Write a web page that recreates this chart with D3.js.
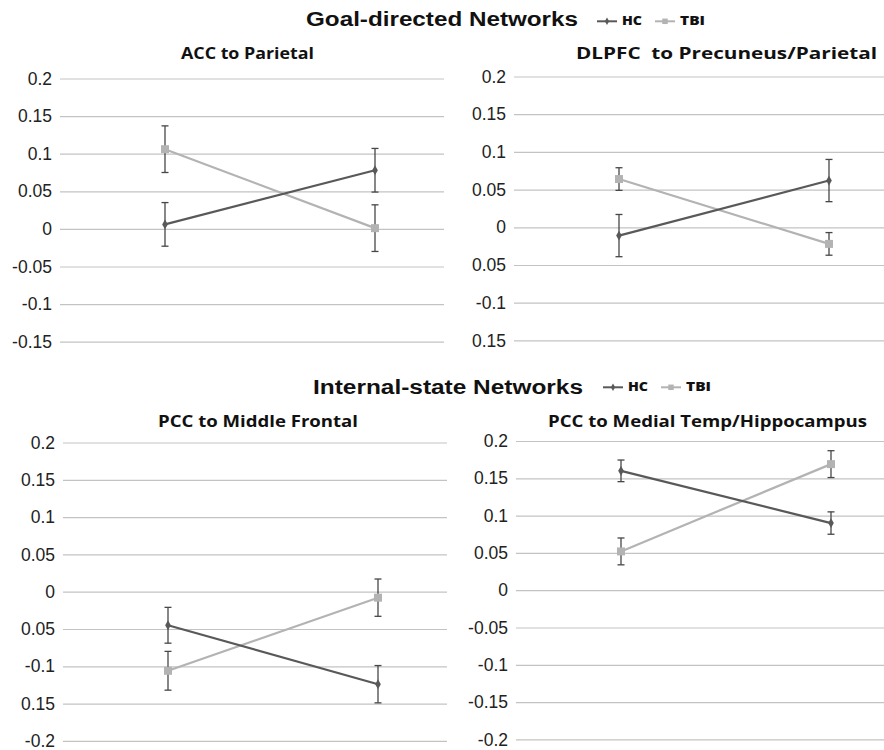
<!DOCTYPE html>
<html>
<head>
<meta charset="utf-8">
<script src="https://cdn.jsdelivr.net/npm/d3@7"></script>
<style>
  body { margin: 0; background: #fff; }
  svg { display: block; }
  .tick text { font-family: "Liberation Sans", Arial, sans-serif; font-size: 17.5px; fill: #222; }
</style>
</head>
<body>
<script>
// Values (two time points per group)
const timepoints = ["1", "2"];
const groups = ["HC", "TBI"];

const accHC = [0.006, 0.078];
const accHCErr = [0.029, 0.029];
const accTBI = [0.106, 0.001];
const accTBIErr = [0.031, 0.031];

const dlpfcHC = [-0.011, 0.062];
const dlpfcHCErr = [0.028, 0.028];
const dlpfcTBI = [0.064, -0.022];
const dlpfcTBIErr = [0.015, 0.015];

const mfHC = [-0.045, -0.124];
const mfHCErr = [0.024, 0.025];
const mfTBI = [-0.106, -0.008];
const mfTBIErr = [0.026, 0.025];

const mtHC = [0.160, 0.090];
const mtHCErr = [0.0145, 0.015];
const mtTBI = [0.052, 0.169];
const mtTBIErr = [0.018, 0.018];

const sectionTitles = ["Goal-directed Networks", "Internal-state Networks"];
const panelTitles = ["ACC to Parietal", "DLPFC  to Precuneus/Parietal", "PCC to Middle Frontal", "PCC to Medial Temp/Hippocampus"];

const tickValsTop = [0.2, 0.15, 0.1, 0.05, 0, -0.05, -0.1, -0.15];
const tickValsBottom = [0.2, 0.15, 0.1, 0.05, 0, -0.05, -0.1, -0.15, -0.2];
const tickLabels1 = ["0.2", "0.15", "0.1", "0.05", "0", "-0.05", "-0.1", "-0.15"];
const tickLabels2 = ["0.2", "0.15", "0.1", "0.05", "0", "0.05", "-0.1", "0.15"];
const tickLabels3 = ["0.2", "0.15", "0.1", "0.05", "0", "0.05", "-0.1", "0.15", "-0.2"];
const tickLabels4 = ["0.2", "0.15", "0.1", "0.05", "0", "-0.05", "-0.1", "-0.15", "-0.2"];

// panel table
const panels = [
  { title: panelTitles[0], hc: accHC, hcErr: accHCErr, tbi: accTBI, tbiErr: accTBIErr, ticks: tickValsTop, labels: tickLabels1 },
  { title: panelTitles[1], hc: dlpfcHC, hcErr: dlpfcHCErr, tbi: dlpfcTBI, tbiErr: dlpfcTBIErr, ticks: tickValsTop, labels: tickLabels2 },
  { title: panelTitles[2], hc: mfHC, hcErr: mfHCErr, tbi: mfTBI, tbiErr: mfTBIErr, ticks: tickValsBottom, labels: tickLabels3 },
  { title: panelTitles[3], hc: mtHC, hcErr: mtHCErr, tbi: mtTBI, tbiErr: mtTBIErr, ticks: tickValsBottom, labels: tickLabels4 }
];

// layout (pixels)
const layout = [
  { x0: 60, yTop: 78.5, step: 37.6, gridEnd: 444, titleX: 181, titleW: 133, titleY: 58.5 },
  { x0: 514, yTop: 76.5, step: 37.7, gridEnd: 884, titleX: 576, titleW: 301, titleY: 58.5 },
  { x0: 63, yTop: 442.5, step: 37.3, gridEnd: 447, titleX: 158, titleW: 200, titleY: 426.5 },
  { x0: 516, yTop: 441, step: 37.3, gridEnd: 884, titleX: 548, titleW: 319, titleY: 426.5 }
];
const sections = [
  { x: 306, w: 272, y: 25.5, legendX: 597, legendY: 21.3 },
  { x: 313, w: 270, y: 393.5, legendX: 603, legendY: 387.3 }
];
const plotW = 420;

const colors = { HC: "#595959", TBI: "#b3b3b3" };
const errColor = "#474747";

const svg = d3.select("body").append("svg")
  .attr("width", 884)
  .attr("height", 750);

const diamond = d3.symbol().type(d3.symbolDiamond).size(28);
const square = d3.symbol().type(d3.symbolSquare).size(64);

panels.forEach((p, i) => {
  const L = layout[i];
  const n = p.ticks.length - 1;
  const x = d3.scalePoint().domain(timepoints).range([L.x0, L.x0 + plotW]).padding(0.5);
  const y = d3.scaleLinear()
    .domain([d3.min(p.ticks), d3.max(p.ticks)])
    .range([L.yTop + n * L.step, L.yTop]);

  const g = svg.append("g");

  // grid + tick labels
  const ax = g.append("g")
    .attr("transform", `translate(${L.x0},0)`)
    .call(d3.axisLeft(y)
      .tickValues(p.ticks)
      .tickFormat((d, k) => p.labels[k])
      .tickSize(-(L.gridEnd - L.x0))
      .tickPadding(8));
  ax.select(".domain").remove();
  ax.selectAll(".tick line").attr("stroke", "#c3c3c3").attr("stroke-width", 1.2);

  // panel title
  g.append("text")
    .attr("x", L.titleX)
    .attr("y", L.titleY)
    .attr("textLength", L.titleW)
    .attr("lengthAdjust", "spacingAndGlyphs")
    .style("white-space", "pre")
    .style("font-family", "'Open Sans', Lato, sans-serif")
    .style("font-weight", "bold")
    .style("font-size", "16.5px")
    .attr("fill", "#111")
    .text(p.title);

  const series = [
    { key: "HC", vals: p.hc, errs: p.hcErr },
    { key: "TBI", vals: p.tbi, errs: p.tbiErr }
  ];

  const line = d3.line().x((d, k) => x(timepoints[k])).y(d => y(d));

  series.forEach(s => {
    // error bars
    const eb = g.append("g").attr("stroke", errColor).attr("stroke-width", 1.3);
    s.vals.forEach((v, k) => {
      const cx = x(timepoints[k]);
      eb.append("line").attr("x1", cx).attr("x2", cx).attr("y1", y(v - s.errs[k])).attr("y2", y(v + s.errs[k]));
      eb.append("line").attr("x1", cx - 3.5).attr("x2", cx + 3.5).attr("y1", y(v + s.errs[k])).attr("y2", y(v + s.errs[k]));
      eb.append("line").attr("x1", cx - 3.5).attr("x2", cx + 3.5).attr("y1", y(v - s.errs[k])).attr("y2", y(v - s.errs[k]));
    });
  });

  series.slice().reverse().forEach(s => {
    g.append("path")
      .datum(s.vals)
      .attr("d", line)
      .attr("fill", "none")
      .attr("stroke", colors[s.key])
      .attr("stroke-width", 2.2);
  });

  series.forEach(s => {
    g.selectAll(null)
      .data(s.vals)
      .enter()
      .append("path")
      .attr("d", s.key === "HC" ? diamond : square)
      .attr("transform", (d, k) => `translate(${x(timepoints[k])},${y(d)})`)
      .attr("fill", colors[s.key]);
  });
});

// section titles with legends
sections.forEach((S, i) => {
  svg.append("text")
    .attr("x", S.x)
    .attr("y", S.y)
    .attr("textLength", S.w)
    .attr("lengthAdjust", "spacingAndGlyphs")
    .style("font-family", "'Liberation Sans', Arial, sans-serif")
    .style("font-weight", "bold")
    .style("font-size", "19.5px")
    .attr("fill", "#111")
    .text(sectionTitles[i]);

  const lg = svg.append("g").attr("transform", `translate(${S.legendX},${S.legendY})`);
  const offsets = [0, 58];
  const textW = [20, 25];
  groups.forEach((grp, k) => {
    const gx = offsets[k];
    lg.append("line")
      .attr("x1", gx).attr("x2", gx + 20)
      .attr("y1", 0).attr("y2", 0)
      .attr("stroke", colors[grp])
      .attr("stroke-width", 2);
    lg.append("path")
      .attr("d", grp === "HC" ? d3.symbol().type(d3.symbolDiamond).size(16) : d3.symbol().type(d3.symbolSquare).size(30))
      .attr("transform", `translate(${gx + 10},0)`)
      .attr("fill", colors[grp]);
    lg.append("text")
      .attr("x", gx + 25)
      .attr("y", 4)
      .attr("textLength", textW[k])
      .attr("lengthAdjust", "spacingAndGlyphs")
      .style("font-family", "'Open Sans', sans-serif")
      .style("font-weight", "800")
      .style("font-size", "12px")
      .attr("fill", "#111")
      .text(grp);
  });
});
</script>
</body>
</html>
